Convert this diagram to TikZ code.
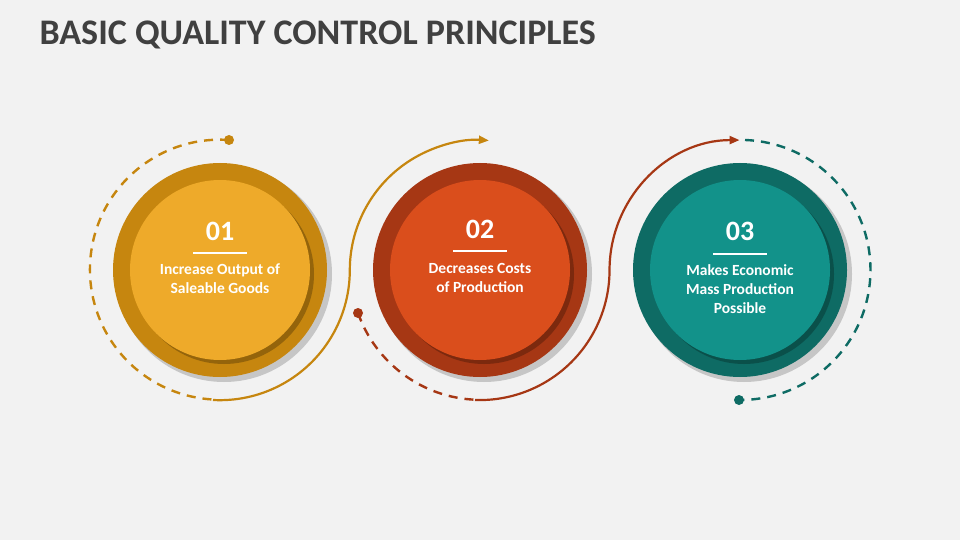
\documentclass[tikz,border=0pt]{standalone}
\usepackage{fontspec}
\setmainfont{Carlito}
\usetikzlibrary{arrows.meta}
\definecolor{bg}{HTML}{F2F2F2}
\definecolor{yo}{HTML}{C6860F}\definecolor{yi}{HTML}{EEAA2A}
\definecolor{ro}{HTML}{A63714}\definecolor{ri}{HTML}{DA4E1C}
\definecolor{to}{HTML}{0E6B64}\definecolor{ti}{HTML}{12928A}
\definecolor{ttl}{HTML}{404040}
\begin{document}
\begin{tikzpicture}[x=1pt,y=-1pt,
  dsh/.style={line width=2.4pt,dash pattern=on 9pt off 7pt},
  sld/.style={line width=2.2pt},
  num/.style={text=white,font=\bfseries\fontsize{28}{32}\selectfont},
  lbl/.style={text=white,font=\bfseries\fontsize{15.5}{19}\selectfont,align=center},
  ul/.style={white,line width=2pt}]
\fill[bg] (0,0) rectangle (960,540);
\useasboundingbox (0,0) rectangle (960,540);
\node[anchor=west,text=ttl,font=\bfseries\fontsize{36}{40}\selectfont] (title) at (36,35) {BASIC QUALITY CONTROL PRINCIPLES};
% arcs
\draw[yo,dsh] (229,140) arc[start angle=-86,end angle=-267,radius=130];
\fill[yo] (229,140) circle (5);
\draw[yo,sld,-{Triangle[length=10pt,width=8pt]}] (213,400) arc[start angle=93,end angle=0,radius=130] arc[start angle=180,end angle=274,radius=130];
\draw[ro,dsh] (358,313) arc[start angle=160.6,end angle=92,radius=130];
\fill[ro] (358,313) circle (5);
\draw[ro,sld,-{Triangle[length=10pt,width=8pt]}] (475,400) arc[start angle=92,end angle=0,radius=130] arc[start angle=180,end angle=270,radius=130];
\draw[to,dsh] (745,140) arc[start angle=-88,end angle=90,radius=130];
\fill[to] (739,400) circle (5);
% circles
\foreach \cx/\o/\i/\n in {220/yo/yi/c1,480/ro/ri/c2,740/to/ti/c3}{
  \fill[black,opacity=0.18] (\cx+4,274) circle (108);
  \fill[\o] (\cx,270) circle (107);
  \fill[black,opacity=0.25] (\cx+4,274) circle (90);
  \fill[\i] (\cx,270) circle (90);
}
\node[num] (n1) at (220,231) {01};
\draw[ul] (193,253) -- (247,253);
\node[lbl] (t1) at (220,279) {Increase Output of\\Saleable Goods};
\node[num] (n2) at (480,229) {02};
\draw[ul] (453,251) -- (507,251);
\node[lbl] (t2) at (480,278) {Decreases Costs\\of Production};
\node[num] (n3) at (740,231) {03};
\draw[ul] (713,254) -- (767,254);
\node[lbl] (t3) at (740,289) {Makes Economic\\Mass Production\\Possible};
\end{tikzpicture}
\end{document}
